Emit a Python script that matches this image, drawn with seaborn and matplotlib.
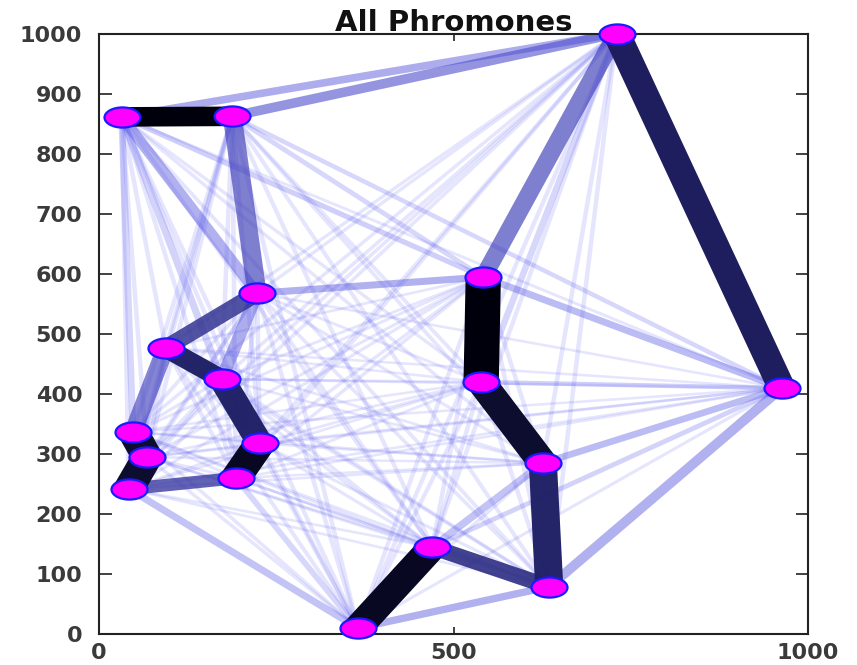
import numpy as np
import pandas as pd
import matplotlib
matplotlib.use("Agg")
import matplotlib.pyplot as plt
import seaborn as sns
from matplotlib.path import Path
from matplotlib.collections import PolyCollection

# ---- data -------------------------------------------------------------
node_x = [730, 32, 188, 223, 542, 94, 173, 539, 963, 48, 68, 227, 626, 42, 193, 470, 635, 365]
node_y = [1000, 861, 862, 567, 594, 476, 424, 419, 409, 336, 294, 317, 284, 241, 259, 144, 78, 9]

# pheromone level on edges (1-based node ids); other pairs use base level
edge_a = [2, 5, 16, 12, 14, 11, 8, 1, 13, 6, 7, 17, 4, 15, 1, 3, 10, 3, 2, 7, 2, 4, 9, 18, 9, 9, 16, 14, 9, 2, 2, 16, 15, 1, 3, 3, 2]
edge_b = [3, 8, 18, 15, 11, 10, 13, 9, 17, 7, 12, 16, 6, 14, 5, 4, 6, 1, 1, 4, 4, 5, 17, 17, 13, 5, 13, 18, 8, 5, 7, 9, 18, 8, 5, 9, 10]
edge_p = [1.0, 1.0, 0.95, 0.95, 0.92, 0.92, 0.92, 0.8, 0.78, 0.78, 0.78, 0.7, 0.65, 0.6, 0.5, 0.5, 0.48, 0.42, 0.32, 0.32, 0.3, 0.3, 0.3, 0.3, 0.25, 0.25, 0.22, 0.22, 0.16, 0.16, 0.14, 0.14, 0.12, 0.12, 0.12, 0.12, 0.12]
base_p = 0.05

x_ticks = [0, 500, 1000]
y_ticks = [0, 100, 200, 300, 400, 500, 600, 700, 800, 900, 1000]
title = "All Phromones"

# ---- figure -----------------------------------------------------------
sns.set_style("white")
plt.rcParams["font.family"] = ["DejaVu Sans"]
fig = plt.figure(figsize=(8.57, 6.65), dpi=100)
ax = fig.add_axes([99 / 857, 31.5 / 665, 709 / 857, 600 / 665])
ax.set_xlim(0, 1000)
ax.set_ylim(0, 1000)

STRETCH = 1.8  # horizontal stretch of the reference picture

# pheromone matrix
n = len(node_x)
P = np.full((n, n), base_p)
for a, b, p in zip(edge_a, edge_b, edge_p):
    P[a - 1, b - 1] = p
    P[b - 1, a - 1] = p

pairs = [(i, j, P[i, j]) for i in range(n) for j in range(i + 1, n)]
pairs.sort(key=lambda t: t[2])

blue = np.array([0.33, 0.33, 0.95])
dark = np.array([0.0, 0.0, 0.05])

polys, colors = [], []
pts = ax.transData.transform(np.column_stack([node_x, node_y]))
inv = ax.transData.inverted()
for i, j, p in pairs:
    w = 1.6 + 18.0 * p
    A = pts[i] / [STRETCH, 1.0]
    B = pts[j] / [STRETCH, 1.0]
    d = B - A
    L = np.hypot(*d)
    nrm = np.array([-d[1], d[0]]) / L * w / 2
    quad = np.array([A + nrm, B + nrm, B - nrm, A - nrm]) * [STRETCH, 1.0]
    polys.append(inv.transform(quad))
    q = p ** 2
    rgb = blue * (1 - q) + dark * q
    alpha = min(1.0, 0.09 + 1.15 * p)
    colors.append((*rgb, alpha))

pc = PolyCollection(polys, facecolors=colors, edgecolors="none", zorder=2)
ax.add_collection(pc)

# nodes
t = Path.unit_circle()
ell = Path(t.vertices * [1.0, 0.56], t.codes)
df = pd.DataFrame({"x": node_x, "y": node_y})
sns.scatterplot(data=df, x="x", y="y", marker=ell, s=(36 * 0.72) ** 2,
                color="#ff00ff", edgecolor="#1a1aff", linewidth=1.6,
                zorder=5, clip_on=False, ax=ax, legend=False)

ax.set_xlim(0, 1000)
ax.set_ylim(0, 1000)
ax.set_xlabel("")
ax.set_ylabel("")
ax.set_xticks(x_ticks)
ax.set_yticks(y_ticks)
ax.set_xticklabels([str(v) for v in x_ticks])
ax.set_yticklabels([str(v) for v in y_ticks])
ax.tick_params(axis="y", direction="in", length=9, width=1.3, left=True, right=True,
               pad=12, labelsize=16, labelcolor="#3a3a3a", color="#333333")
ax.tick_params(axis="x", direction="in", length=5, width=1.3, bottom=True, top=True,
               pad=7, labelsize=16, labelcolor="#3a3a3a", color="#333333")
for lab in ax.get_xticklabels() + ax.get_yticklabels():
    lab.set_fontweight("bold")
for sp in ax.spines.values():
    sp.set_visible(True)
    sp.set_color("#222222")
    sp.set_linewidth(1.5)

ax.set_title(title, fontsize=21, fontweight="bold", color="#111111", pad=2)

fig.savefig("out.png", dpi=100)
